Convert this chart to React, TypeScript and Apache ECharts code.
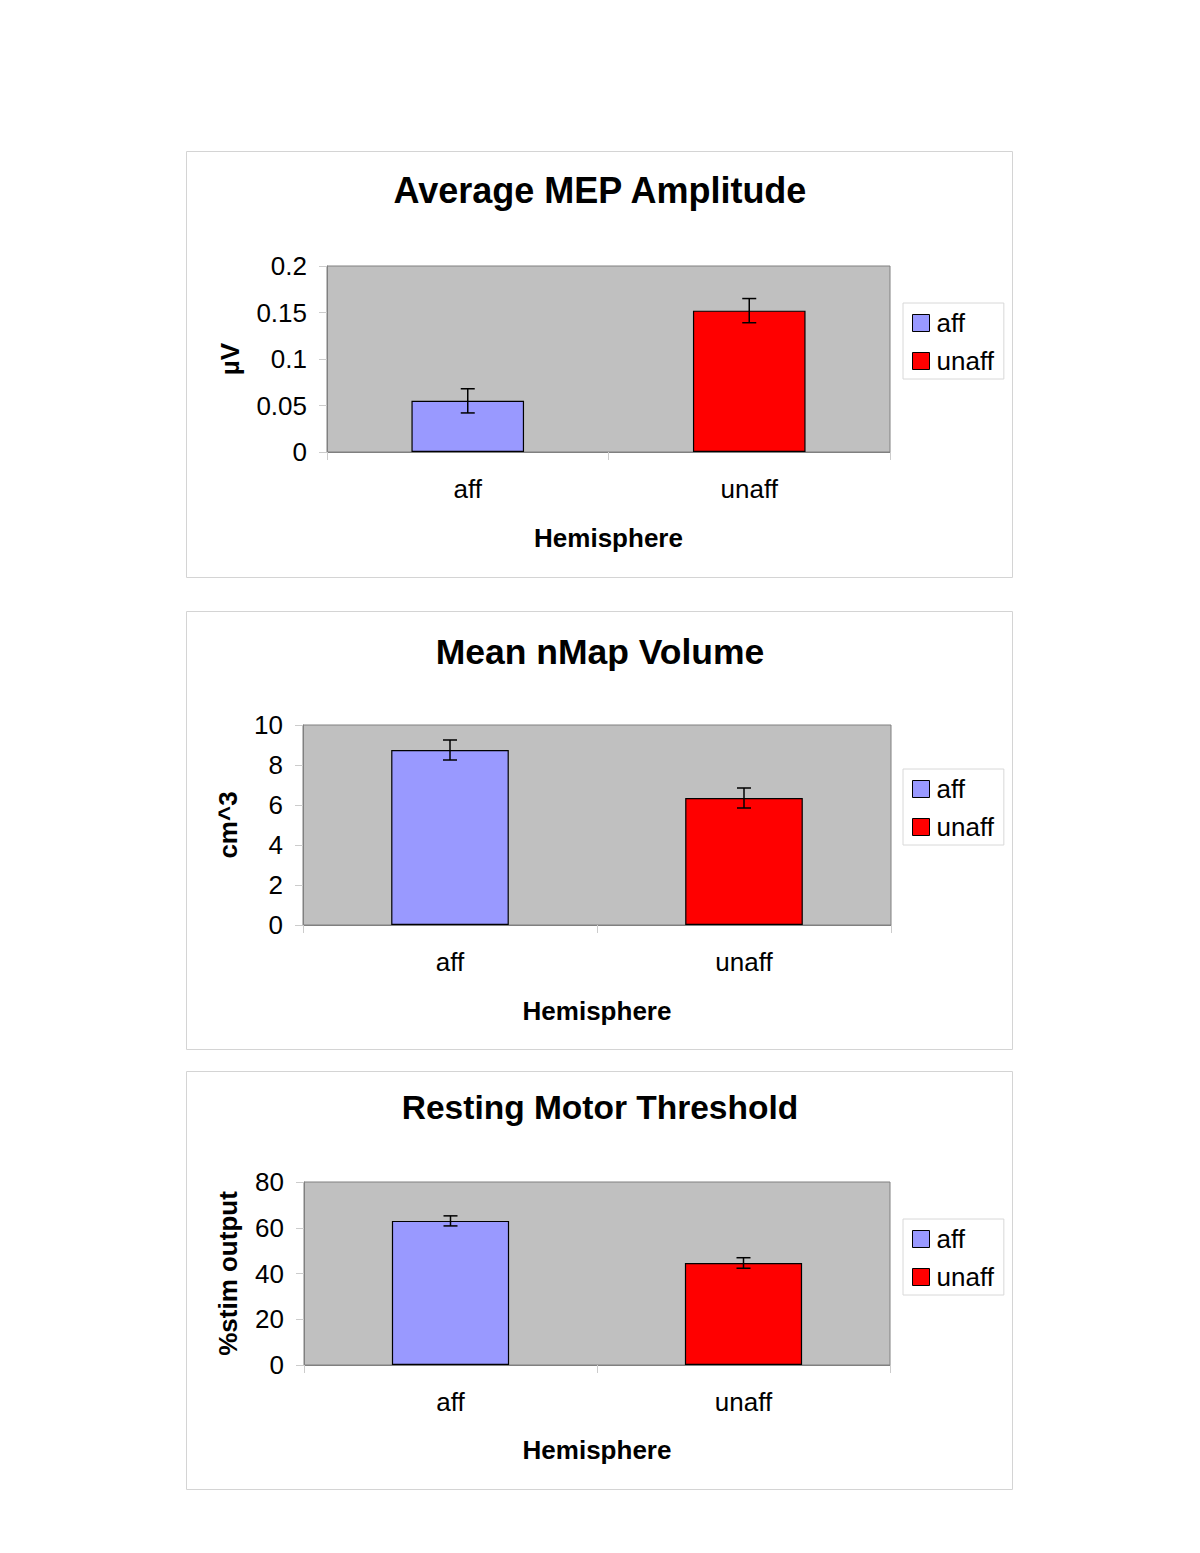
import React, { useEffect, useRef } from "react";
import * as echarts from "echarts";

const categories = ["aff", "unaff"];
const seriesNames = ["aff", "unaff"];
const seriesColors = ["#9999FF", "#FF0000"];

const mepTitle = "Average MEP Amplitude";
const mepValues = [0.055, 0.152];
const mepErrors = [0.013, 0.013];
const mepTicks = [0, 0.05, 0.1, 0.15, 0.2];

const volTitle = "Mean nMap Volume";
const volValues = [8.75, 6.35];
const volErrors = [0.5, 0.5];
const volTicks = [0, 2, 4, 6, 8, 10];

const rmtTitle = "Resting Motor Threshold";
const rmtValues = [63, 44.6];
const rmtErrors = [2.2, 2.3];
const rmtTicks = [0, 20, 40, 60, 80];

const FONT = '"Liberation Sans", Arial, sans-serif';

const panels = [
  {
    title: mepTitle, titleSize: 36, yName: "µV", values: mepValues, errors: mepErrors, ticks: mepTicks,
    box: [186, 151, 826, 426], grid: [327, 266, 563, 186], titleY: 190, yGap: 84, xGap: 73,
    legend: [903, 303],
  },
  {
    title: volTitle, titleSize: 35.5, yName: "cm^3", values: volValues, errors: volErrors, ticks: volTicks,
    box: [186, 611, 826, 438], grid: [303, 725, 588, 200], titleY: 652, yGap: 62, xGap: 73,
    legend: [903, 769],
  },
  {
    title: rmtTitle, titleSize: 33.5, yName: "%stim output", values: rmtValues, errors: rmtErrors, ticks: rmtTicks,
    box: [186, 1071, 826, 418], grid: [304, 1182, 586, 183], titleY: 1107, yGap: 63, xGap: 72,
    legend: [903, 1219],
  },
];

export default function App() {
  const ref = useRef<HTMLDivElement>(null);
  useEffect(() => {
    if (!ref.current) return;
    const chart = echarts.init(ref.current, null, { renderer: "svg" });
    const grid: any[] = [];
    const xAxis: any[] = [];
    const yAxis: any[] = [];
    const series: any[] = [];
    const legend: any[] = [];
    const graphic: any[] = [];
    panels.forEach((p, gi) => {
      graphic.push({
        type: "rect",
        shape: { x: p.box[0] + 0.5, y: p.box[1] + 0.5, width: p.box[2], height: p.box[3] },
        style: { fill: "#fff", stroke: "#d4d4d4", lineWidth: 1 },
        z: -10,
      });
      graphic.push({
        type: "text",
        x: 600,
        y: p.titleY,
        style: {
          text: p.title,
          fill: "#000",
          font: `bold ${p.titleSize}px ${FONT}`,
          textAlign: "center",
          textVerticalAlign: "middle",
        },
      });
      grid.push({
        left: p.grid[0], top: p.grid[1], width: p.grid[2], height: p.grid[3],
        show: true, backgroundColor: "#C0C0C0", borderColor: "#808080", borderWidth: 1,
      });
      xAxis.push({
        type: "category", gridIndex: gi, data: categories,
        name: "Hemisphere", nameLocation: "middle", nameGap: p.xGap,
        nameTextStyle: { fontSize: 26, fontWeight: "bold", color: "#000", fontFamily: FONT },
        axisLine: { lineStyle: { color: "#808080", width: 1 } },
        axisTick: { show: true, length: 8, lineStyle: { color: "#cccccc" } },
        axisLabel: { fontSize: 26, color: "#000", fontFamily: FONT, margin: 24 },
      });
      const t = p.ticks;
      yAxis.push({
        type: "value", gridIndex: gi, min: t[0], max: t[t.length - 1], interval: t[1] - t[0],
        name: p.yName, nameLocation: "middle", nameGap: p.yGap, nameRotate: 90,
        nameTextStyle: { fontSize: 26, fontWeight: "bold", color: "#000", fontFamily: FONT },
        axisLine: { show: true, lineStyle: { color: "#808080", width: 1 } },
        axisTick: { show: true, length: 8, lineStyle: { color: "#cccccc" } },
        axisLabel: { fontSize: 26, color: "#000", fontFamily: FONT, margin: 20 },
        splitLine: { show: false },
      });
      seriesNames.forEach((name, si) => {
        series.push({
          type: "bar", name, xAxisIndex: gi, yAxisIndex: gi, stack: "s" + gi,
          barWidth: "40%",
          data: p.values.map((v, i) => (i === si ? v : "-")),
          itemStyle: { color: seriesColors[si], borderColor: "#000", borderWidth: 1.2 },
        });
      });
      series.push({
        type: "custom", name: "error" + gi, xAxisIndex: gi, yAxisIndex: gi, z: 5,
        data: p.values.map((v, i) => [i, v, p.errors[i]]),
        encode: { x: 0, y: 1 },
        renderItem: (params: any, api: any) => {
          const x = api.value(0);
          const v = api.value(1);
          const e = api.value(2);
          const top = api.coord([x, v + e]);
          const bot = api.coord([x, v - e]);
          const h = 7;
          const st = { stroke: "#000", lineWidth: 1.5 };
          return {
            type: "group",
            children: [
              { type: "line", shape: { x1: top[0], y1: top[1], x2: bot[0], y2: bot[1] }, style: st },
              { type: "line", shape: { x1: top[0] - h, y1: top[1], x2: top[0] + h, y2: top[1] }, style: st },
              { type: "line", shape: { x1: bot[0] - h, y1: bot[1], x2: bot[0] + h, y2: bot[1] }, style: st },
            ],
          };
        },
      });
      legend.push({
        data: seriesNames, orient: "vertical", left: p.legend[0], top: p.legend[1],
        width: 99, padding: [7, 10, 5, 9], itemGap: 12, itemWidth: 17, itemHeight: 17,
        icon: "rect", borderColor: "#d8d8d8", borderWidth: 1, backgroundColor: "#fff",
        itemStyle: { borderColor: "#000", borderWidth: 1 },
        textStyle: { fontSize: 26, color: "#000", fontFamily: FONT, padding: [0, 0, 0, 2] },
        selectedMode: false,
      });
    });
    chart.setOption({
      animation: false,
      backgroundColor: "#fff",
      textStyle: { fontFamily: FONT },
      grid, xAxis, yAxis, series, legend, graphic,
    });
    return () => chart.dispose();
  }, []);
  return (
    <div
      ref={ref}
      style={{ position: "absolute", left: 0, top: 0, width: 1200, height: 1553 }}
    />
  );
}
